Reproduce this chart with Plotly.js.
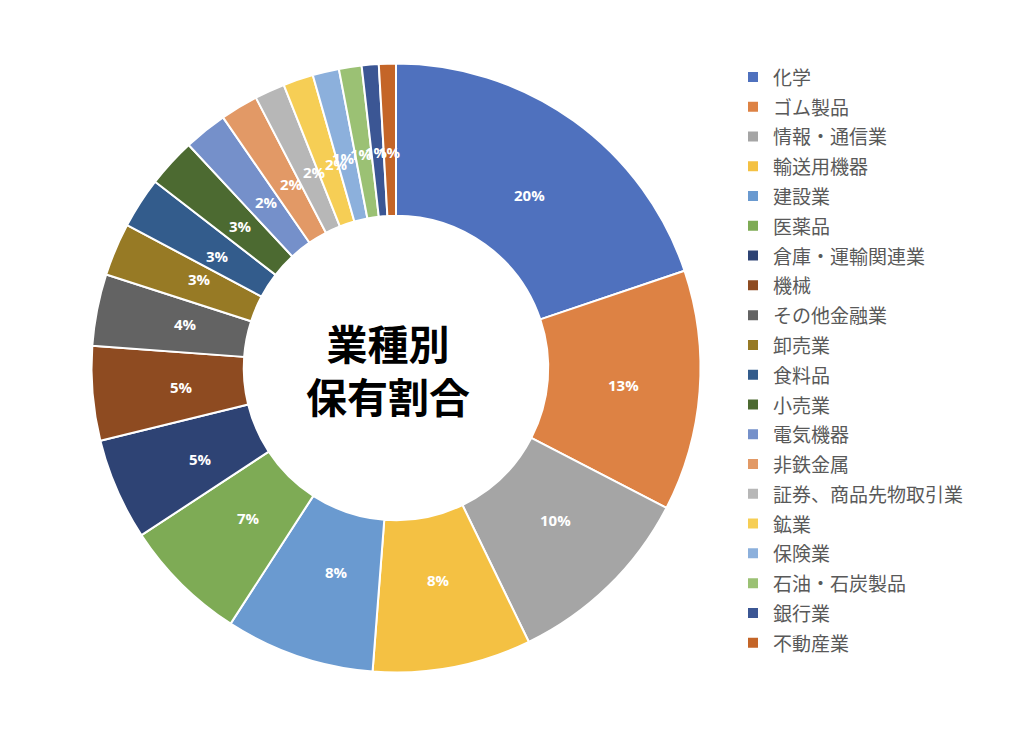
<!DOCTYPE html>
<html><head><meta charset="utf-8">
<script src="https://cdn.plot.ly/plotly-3.0.1.min.js"></script>
<style>html,body{margin:0;padding:0;background:#fff}</style>
</head><body>
<div id="chart" style="width:1024px;height:737px"></div>
<script>
const categories = ["化学","ゴム製品","情報・通信業","輸送用機器","建設業","医薬品","倉庫・運輸関連業","機械","その他金融業","卸売業","食料品","小売業","電気機器","非鉄金属","証券、商品先物取引業","鉱業","保険業","石油・石炭製品","銀行業","不動産業"];
const shares = [19.8,12.75,10.2,8.4,7.9,6.6,5.4,5.0,3.8,2.8,2.7,2.6,2.3,2.0,1.6,1.6,1.4,1.2,0.9,0.9];
const colors = ["#4F71BE","#DD8244","#A5A5A5","#F4C143","#6A9AD0","#7EAB55","#2E4374","#8E4B21","#636363","#977A25","#335C8C","#4C6A31","#7590CA","#E29966","#B7B7B7","#F6CE55","#8CB0DC","#9BC174","#3B5694","#C46528"];
const centerTitle = "業種別<br>保有割合";

const W = 1024, H = 737;
const dom = {x:[91.5/W, 700.5/W], y:[1-672.5/H, 1-63.5/H]};
const hole = 0.5;

const total = shares.reduce((a,b)=>a+b,0);
const cx = (dom.x[0]+dom.x[1])/2*W;
const cy = (1-(dom.y[0]+dom.y[1])/2)*H;
const R = Math.min((dom.x[1]-dom.x[0])*W,(dom.y[1]-dom.y[0])*H)/2;
const rm = R*(1+hole)/2;

const annotations = [];
let cum = 0;
shares.forEach(v=>{
  const mid = (cum + v/2)/total*2*Math.PI;
  cum += v;
  const px = cx + rm*Math.sin(mid), py = cy - rm*Math.cos(mid);
  annotations.push({xref:'paper',yref:'paper',x:px/W,y:1-py/H,showarrow:false,
    text:Math.round(v/total*100)+'%',
    font:{family:'Open Sans, Liberation Sans, sans-serif',size:15,color:'#ffffff',weight:700}});
});
annotations.push({xref:'paper',yref:'paper',x:(cx-8)/W,y:1-(cy+1)/H,showarrow:false,
  text:'<b>'+centerTitle+'</b>',
  font:{family:'Noto Sans CJK JP, sans-serif',size:41,color:'#000000'}});

const trace = {
  type:'pie',
  labels:categories.map(c=>'<span style="font-size:19px">'+c+'</span>'),
  values:shares,
  sort:false,
  direction:'clockwise',
  rotation:0,
  hole:hole,
  domain:dom,
  textinfo:'none',
  hoverinfo:'label+percent',
  marker:{colors:colors,line:{color:'#ffffff',width:2}}
};

const layout = {
  width:W,height:H,
  margin:{l:0,r:0,t:0,b:0,autoexpand:false},
  paper_bgcolor:'#ffffff',
  showlegend:true,
  legend:{x:733/W,xanchor:'left',y:1-57/H,yanchor:'top',
    font:{family:'Noto Sans CJK JP, sans-serif',size:20.6,color:'#595959'},
    itemwidth:30,tracegroupgap:0,bgcolor:'rgba(0,0,0,0)'},
  annotations:annotations
};
Plotly.newPlot('chart',[trace],layout,{displayModeBar:false,staticPlot:true});
</script>
</body></html>
